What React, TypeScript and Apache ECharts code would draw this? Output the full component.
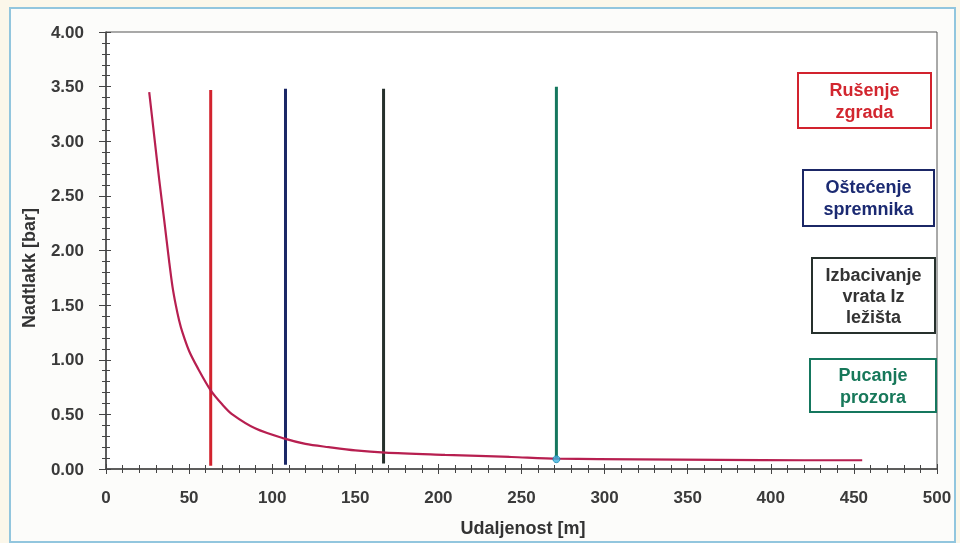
import React, { useEffect, useRef } from "react";
import * as echarts from "echarts";

// Pressure curve: distance [m] vs overpressure [bar]
const distance = [26, 29, 32, 35, 38, 40, 42, 44, 46, 50, 55, 63, 70, 76, 90, 107, 120, 134, 150, 168, 204, 244, 272, 320, 370, 420, 455];
const pressure = [3.45, 3.05, 2.65, 2.28, 1.9, 1.67, 1.5, 1.36, 1.25, 1.08, 0.93, 0.72, 0.59, 0.5, 0.37, 0.28, 0.23, 0.2, 0.17, 0.15, 0.13, 0.11, 0.095, 0.088, 0.083, 0.08, 0.08];

// Damage thresholds (vertical lines)
const thresholdX = [63, 108, 167, 271];
const thresholdTop = [3.47, 3.48, 3.48, 3.5];
const thresholdBottom = [0.03, 0.04, 0.05, 0.09];
const thresholdNames = ["Rušenje\nzgrada", "Oštećenje\nspremnika", "Izbacivanje\nvrata Iz\nležišta", "Pucanje\nprozora"];
const thresholdColors = ["#d2232e", "#1b2766", "#26302c", "#15775e"];
const boxTextColors = ["#d2262f", "#1b2a72", "#333333", "#17785a"];
const boxRects = [
  [798, 73, 133, 55],
  [803, 170, 131, 56],
  [812, 258, 123, 75],
  [810, 359, 126, 53],
];

const xTicks = { min: 0, max: 500, interval: 50 };
const yTicks = { min: 0, max: 4, interval: 0.5 };

const FONT = "'Liberation Sans', Arial, sans-serif";

export default function App() {
  const ref = useRef<HTMLDivElement>(null);
  useEffect(() => {
    if (!ref.current) return;
    const chart = echarts.init(ref.current, null, { renderer: "svg" });
    const axisColor = "#444";
    const labelStyle = { fontFamily: FONT, fontWeight: "bold" as const, fontSize: 17, color: "#3a3a3a" };

    const series: any[] = [
      {
        type: "line",
        data: distance.map((d, i) => [d, pressure[i]]),
        smooth: 0.3,
        symbol: "none",
        lineStyle: { color: "#b71f50", width: 2.2 },
        z: 5,
      },
    ];
    thresholdX.forEach((x, i) => {
      series.push({
        type: "line",
        data: [
          [x, thresholdBottom[i]],
          [x, thresholdTop[i]],
        ],
        symbol: "none",
        lineStyle: { color: thresholdColors[i], width: 3 },
        z: 4,
      });
    });
    series.push({
      type: "scatter",
      data: [[thresholdX[3], thresholdBottom[3]]],
      symbol: "circle",
      symbolSize: 7,
      itemStyle: { color: "#3cb4e0", borderColor: "#1a8ab0", borderWidth: 1 },
      z: 6,
    });

    const graphic: any[] = [
      {
        type: "rect",
        z: -10,
        shape: { x: 0, y: 0, width: 960, height: 543 },
        style: { fill: "#fbf7ea" },
      },
      {
        type: "rect",
        z: -9,
        shape: { x: 10, y: 8, width: 945, height: 534 },
        style: { fill: "#fcfcfa", stroke: "#92c6de", lineWidth: 2 },
      },
      {
        type: "text",
        x: 29,
        y: 268,
        rotation: Math.PI / 2,
        style: {
          text: "Nadtlakk [bar]",
          font: `bold 18px ${FONT}`,
          fill: "#333",
          textAlign: "center",
          textVerticalAlign: "middle",
        },
      },
      {
        type: "text",
        x: 523,
        y: 528,
        style: {
          text: "Udaljenost [m]",
          font: `bold 18px ${FONT}`,
          fill: "#333",
          textAlign: "center",
          textVerticalAlign: "middle",
        },
      },
    ];
    boxRects.forEach((r, i) => {
      graphic.push({
        type: "rect",
        z: 10,
        shape: { x: r[0], y: r[1], width: r[2], height: r[3] },
        style: { fill: "#ffffff", stroke: thresholdColors[i], lineWidth: 2 },
      });
      graphic.push({
        type: "text",
        z: 11,
        x: r[0] + r[2] / 2,
        y: r[1] + r[3] / 2,
        style: {
          text: thresholdNames[i],
          font: `bold 18px ${FONT}`,
          lineHeight: i === 2 ? 21 : 22,
          fill: boxTextColors[i],
          textAlign: "center",
          textVerticalAlign: "middle",
        },
      });
    });

    chart.setOption({
      animation: false,
      backgroundColor: "transparent",
      grid: {
        left: 106,
        right: 23,
        top: 32,
        bottom: 74,
        show: true,
        backgroundColor: "#ffffff",
        borderColor: "#555",
        borderWidth: 1,
      },
      xAxis: [
        {
          type: "value",
          position: "bottom",
          ...xTicks,
          axisLine: { show: true, lineStyle: { color: axisColor, width: 1.5 } },
          axisTick: { show: true, inside: false, length: 5, lineStyle: { color: axisColor } },
          minorTick: { show: true, splitNumber: 5, length: 4, lineStyle: { color: axisColor } },
          axisLabel: { ...labelStyle, margin: 20 },
          splitLine: { show: false },
        },
        {
          type: "value",
          position: "bottom",
          ...xTicks,
          axisLine: { show: false },
          axisTick: { show: true, inside: true, length: 5, lineStyle: { color: axisColor } },
          minorTick: { show: true, splitNumber: 5, length: 4, lineStyle: { color: axisColor } },
          axisLabel: { show: false },
          splitLine: { show: false },
        },
      ],
      yAxis: [
        {
          type: "value",
          position: "left",
          ...yTicks,
          axisLine: { show: true, lineStyle: { color: axisColor, width: 1.5 } },
          axisTick: { show: true, inside: false, length: 7, lineStyle: { color: axisColor } },
          minorTick: { show: true, splitNumber: 5, length: 4, lineStyle: { color: axisColor } },
          axisLabel: { ...labelStyle, margin: 22, formatter: (v: number) => v.toFixed(2) },
          splitLine: { show: false },
        },
        {
          type: "value",
          position: "left",
          ...yTicks,
          axisLine: { show: false },
          axisTick: { show: true, inside: true, length: 5, lineStyle: { color: axisColor } },
          minorTick: { show: true, splitNumber: 5, length: 4, lineStyle: { color: axisColor } },
          axisLabel: { show: false },
          splitLine: { show: false },
        },
      ],
      series,
      graphic,
    });
    return () => chart.dispose();
  }, []);

  return (
    <div
      ref={ref}
      style={{ position: "fixed", left: 0, top: 0, width: 960, height: 543 }}
    />
  );
}
